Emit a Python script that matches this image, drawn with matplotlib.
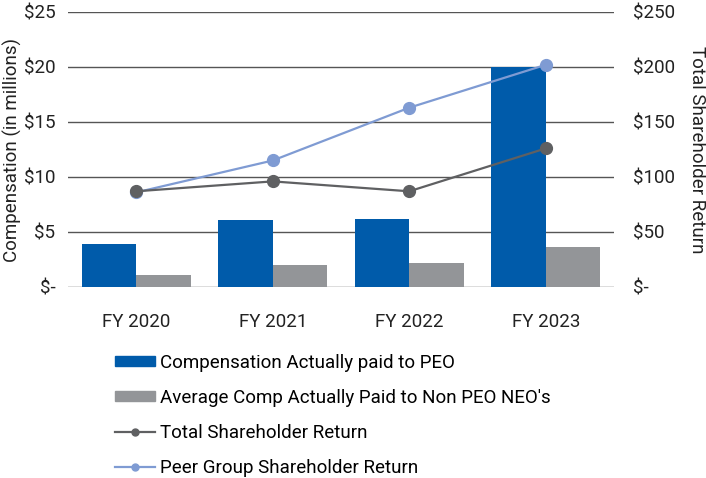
import matplotlib.pyplot as plt
from matplotlib.lines import Line2D
from matplotlib.patches import Patch
import numpy as np

plt.rcParams['font.family'] = ['Roboto', 'DejaVu Sans']

# Data
years = ['FY 2020', 'FY 2021', 'FY 2022', 'FY 2023']
peo_comp = [3.9, 6.1, 6.2, 20.0]
neo_comp = [1.1, 2.0, 2.2, 3.6]
tsr = [87, 96, 87, 126]
peer_tsr = [86, 115, 163, 202]

comp_ticks = [0, 5, 10, 15, 20, 25]
comp_labels = ['$-', '$5', '$10', '$15', '$20', '$25']
tsr_ticks = [0, 50, 100, 150, 200, 250]
tsr_labels = ['$-', '$50', '$100', '$150', '$200', '$250']

blue = '#005BAA'
grey_bar = '#939598'
tsr_col = '#5F6062'
peer_col = '#7F9BD3'
grid_col = '#555555'
text_col = '#222222'
fs = 13.5

fig = plt.figure(figsize=(7.06, 4.78), dpi=100)
ax = fig.add_axes([0.0963, 0.3996, 0.7734, 0.5753])
ax2 = ax.twinx()

x = np.arange(len(years))
w = 0.4
ax.bar(x - w / 2, peo_comp, w, color=blue, zorder=2)
ax.bar(x + w / 2, neo_comp, w, color=grey_bar, zorder=2)

ax.set_ylim(0, 25)
ax.set_xlim(-0.5, 3.5)
ax.set_yticks(comp_ticks)
ax.set_yticklabels(comp_labels)
ax.yaxis.grid(True, color=grid_col, linewidth=1.0)
ax.set_axisbelow(True)
ax.set_xticks(x)
ax.set_xticklabels(years)

ax2.plot(x, peer_tsr, color=peer_col, linewidth=1.6, marker='o', markersize=8.5, zorder=3)
ax2.plot(x, tsr, color=tsr_col, linewidth=1.6, marker='o', markersize=8.5, zorder=4)
ax2.set_ylim(0, 250)
ax2.set_yticks(tsr_ticks)
ax2.set_yticklabels(tsr_labels)

for a in (ax, ax2):
    for s in a.spines.values():
        s.set_visible(False)
    a.tick_params(length=0, labelsize=fs, colors=text_col)
ax.tick_params(axis='y', pad=9)
ax.tick_params(axis='x', pad=19)
ax2.tick_params(axis='y', pad=14)

# axis titles placed on the figure so they sit at the picture edges
fig.text(12 / 706, 0.687, 'Compensation (in millions)', rotation=90,
         ha='center', va='center', fontsize=fs, color=text_col)
fig.text(697 / 706, 0.687, 'Total Shareholder Return', rotation=270,
         ha='center', va='center', fontsize=fs, color=text_col)

handles = [
    Patch(color=blue),
    Patch(color=grey_bar),
    Line2D([], [], color=tsr_col, linewidth=1.6, marker='o', markersize=5),
    Line2D([], [], color=peer_col, linewidth=1.6, marker='o', markersize=5),
]
labels = ['Compensation Actually paid to PEO',
          "Average Comp Actually Paid to Non PEO NEO's",
          'Total Shareholder Return',
          'Peer Group Shareholder Return']
fig.legend(handles, labels, loc='upper left', bbox_to_anchor=(0.163, 0.26),
           frameon=False, fontsize=fs, handlelength=2.13, handleheight=0.45,
           handletextpad=0.27, labelspacing=0.91, borderaxespad=0, borderpad=0)

plt.savefig('out.png', dpi=100)
